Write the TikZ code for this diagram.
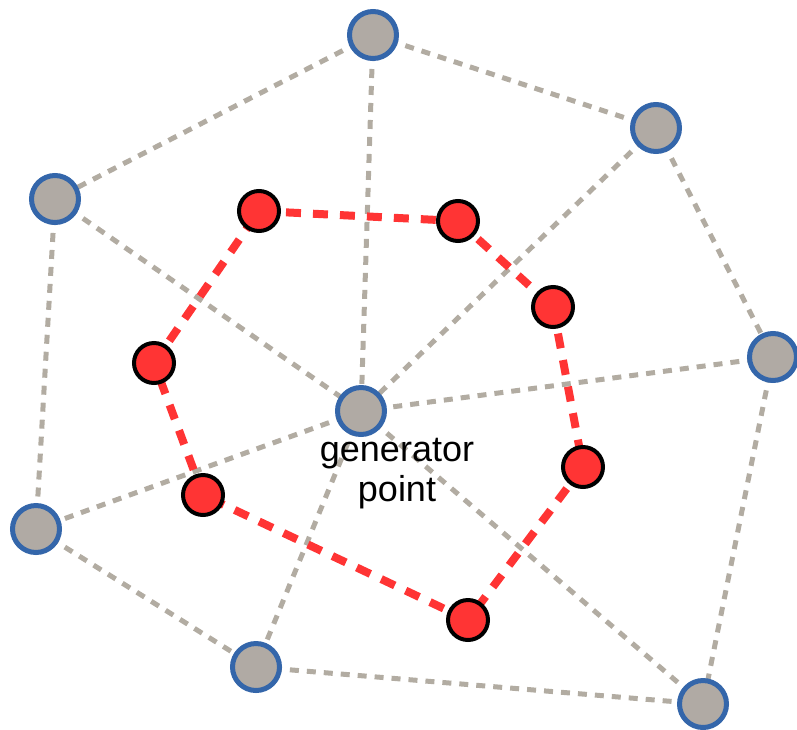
\documentclass[tikz,border=0pt]{standalone}
\usepackage{fontspec}
\setmainfont{Liberation Sans}
\usetikzlibrary{backgrounds}
\definecolor{gfill}{RGB}{176,170,164}
\definecolor{gborder}{RGB}{52,102,170}
\definecolor{gline}{RGB}{178,172,162}
\definecolor{rfill}{RGB}{255,52,52}
\begin{document}
\begin{tikzpicture}[x=1pt,y=-1pt,
  gnode/.style={circle,draw=gborder,fill=gfill,line width=5pt,minimum size=47pt,inner sep=0pt},
  rnode/.style={circle,draw=black,fill=rfill,line width=4pt,minimum size=40pt,inner sep=0pt},
  gedge/.style={draw=gline,line width=5pt,dash pattern=on 9pt off 8pt},
  redge/.style={draw=rfill,line width=8pt,dash pattern=on 15pt off 12pt}]
\useasboundingbox (0,0) rectangle (797,729);
% gray nodes
\node[gnode] (top) at (373,35) {};
\node[gnode] (ur) at (656,128) {};
\node[gnode] (lu) at (55,199) {};
\node[gnode] (r) at (773,357) {};
\node[gnode] (c) at (361,411) {};
\node[gnode] (ll) at (36,529) {};
\node[gnode] (b) at (256,667) {};
\node[gnode] (br) at (703,704) {};
% red nodes
\node[rnode] (r1) at (259,211) {};
\node[rnode] (r2) at (458,221) {};
\node[rnode] (r3) at (553,307) {};
\node[rnode] (r4) at (583,467) {};
\node[rnode] (r5) at (468,620) {};
\node[rnode] (r6) at (203,495) {};
\node[rnode] (r7) at (154,363) {};
\begin{scope}[on background layer]
\path[gedge] (top.center) -- (lu.center);
\path[gedge] (top.center) -- (ur.center);
\path[gedge] (top.center) -- (c.center);
\path[gedge] (lu.center) -- (c.center);
\path[gedge] (lu.center) -- (ll.center);
\path[gedge] (ur.center) -- (c.center);
\path[gedge] (ur.center) -- (r.center);
\path[gedge] (r.center) -- (c.center);
\path[gedge] (r.center) -- (br.center);
\path[gedge] (c.center) -- (ll.center);
\path[gedge] (c.center) -- (b.center);
\path[gedge] (c.center) -- (br.center);
\path[gedge] (ll.center) -- (b.center);
\path[gedge] (b.center) -- (br.center);
\path[redge] (r1.center) -- (r2.center);
\path[redge] (r2.center) -- (r3.center);
\path[redge] (r3.center) -- (r4.center);
\path[redge] (r4.center) -- (r5.center);
\path[redge] (r5.center) -- (r6.center);
\path[redge] (r6.center) -- (r7.center);
\path[redge] (r7.center) -- (r1.center);
\end{scope}
\node[align=center,font=\fontsize{36}{40}\selectfont,inner sep=0pt] (lbl) at (397,474) {generator\\point};
\end{tikzpicture}
\end{document}
